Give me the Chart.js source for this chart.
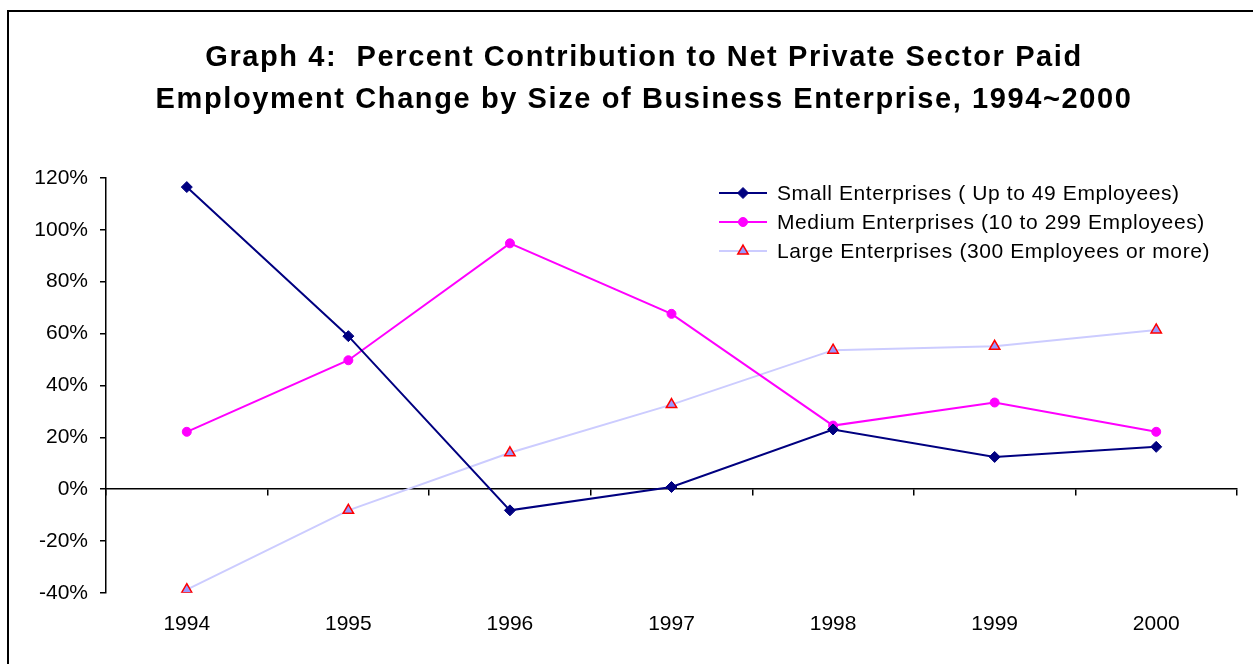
<!DOCTYPE html>
<html>
<head>
<meta charset="utf-8">
<script src="https://cdn.jsdelivr.net/npm/chart.js@4"></script>
<style>
    html, body { margin: 0; padding: 0; background: #fff; overflow: hidden; }
    #wrap { position: relative; width: 1253px; height: 664px; }
    #frame {
        position: absolute; left: 7px; top: 10px; width: 1260px; height: 670px;
        border: 2px solid #000; pointer-events: none;
    }
</style>
</head>
<body>
<div id="wrap">
    <canvas id="chart" width="1253" height="664"></canvas>
    <div id="frame"></div>
</div>
<script>
const years  = ["1994", "1995", "1996", "1997", "1998", "1999", "2000"];
const small  = [116.5, 59.0, -8.2, 0.8, 23.0, 12.4, 16.3];
const medium = [22.1, 49.7, 94.8, 67.6, 24.5, 33.4, 22.1];
const large  = [-38.8, -8.2, 14.0, 32.6, 53.6, 55.1, 61.4];
const seriesNames = [
    "Small Enterprises ( Up to 49 Employees)",
    "Medium Enterprises (10 to 299 Employees)",
    "Large Enterprises (300 Employees or more)",
];
const yTicks = { min: -40, max: 120, step: 20 };

const FONT = "'Liberation Sans', Arial, sans-serif";

// title: shift its box so it is centred like the original, and widen the letters a bit
const titleTweak = {
    id: "titleTweak",
    afterLayout(chart) {
        const t = chart.titleBlock;
        t.left = 51;
        if (!t._wrapped) {
            const orig = t.draw;
            t.draw = function (area) {
                const ctx = this.ctx;
                ctx.save();
                ctx.letterSpacing = "1.6px";
                orig.call(this, area);
                ctx.restore();
            };
            t._wrapped = true;
        }
    },
};

// legend drawn inside the plot area, top right
const innerLegend = {
    id: "innerLegend",
    afterDraw(chart) {
        const ctx = chart.ctx;
        const area = chart.chartArea;
        const x0 = area.left + 613;
        const y0 = area.top + 15;
        chart.data.datasets.forEach((ds, i) => {
            const y = y0 + i * 29;
            ctx.save();
            ctx.strokeStyle = ds.borderColor;
            ctx.lineWidth = ds.borderWidth;
            ctx.beginPath();
            ctx.moveTo(x0, y);
            ctx.lineTo(x0 + 48, y);
            ctx.stroke();
            ctx.fillStyle = ds.pointBackgroundColor;
            ctx.strokeStyle = ds.pointBorderColor;
            ctx.lineWidth = ds.pointBorderWidth;
            Chart.helpers.drawPoint(ctx, {
                pointStyle: ds.pointStyle,
                radius: ds.pointRadius,
                rotation: 0,
                borderWidth: ds.pointBorderWidth,
            }, x0 + 24, y);
            ctx.fillStyle = "#000";
            ctx.font = "21px " + FONT;
            ctx.letterSpacing = "0.6px";
            ctx.textBaseline = "middle";
            ctx.textAlign = "left";
            ctx.fillText(ds.label, x0 + 58, y + 1);
            ctx.restore();
        });
    },
};

new Chart(document.getElementById("chart"), {
    type: "line",
    data: {
        labels: years,
        datasets: [
            {
                label: seriesNames[0], data: small,
                borderColor: "#000080", borderWidth: 2,
                pointStyle: "rectRot", pointRadius: 5.5,
                pointBackgroundColor: "#000080", pointBorderColor: "#000080",
                pointBorderWidth: 1,
            },
            {
                label: seriesNames[1], data: medium,
                borderColor: "#ff00ff", borderWidth: 2,
                pointStyle: "circle", pointRadius: 4.5,
                pointBackgroundColor: "#ff00ff", pointBorderColor: "#ff00ff",
                pointBorderWidth: 1,
            },
            {
                label: seriesNames[2], data: large,
                borderColor: "#ccccff", borderWidth: 2,
                pointStyle: "triangle", pointRadius: 6,
                pointBackgroundColor: "#9999ff", pointBorderColor: "#ff0000",
                pointBorderWidth: 1.5,
            },
        ],
    },
    options: {
        responsive: false,
        animation: false,
        layout: { padding: { left: 0, right: 16, top: 0, bottom: 8 } },
        plugins: {
            legend: { display: false },
            tooltip: { enabled: false },
            title: {
                display: true,
                text: [
                    "Graph 4:  Percent Contribution to Net Private Sector Paid",
                    "Employment Change by Size of Business Enterprise, 1994~2000",
                ],
                color: "#000",
                font: { family: FONT, size: 29, weight: "bold", lineHeight: 42 / 29 },
                padding: { top: 37, bottom: 57 },
            },
        },
        scales: {
            x: {
                type: "category",
                offset: true,
                border: { display: false },
                grid: { display: false, drawTicks: false },
                ticks: { color: "#000", font: { family: FONT, size: 21 }, padding: 19 },
            },
            x0: {
                type: "category",
                axis: "x",
                position: { y: 0 },
                offset: true,
                border: { display: true, color: "#000", width: 1.5 },
                grid: {
                    offset: true, drawOnChartArea: false,
                    tickLength: 6, color: "#000", lineWidth: 1.5,
                },
                ticks: { display: false },
            },
            y: {
                min: yTicks.min,
                max: yTicks.max,
                border: { display: true, color: "#000", width: 1.5 },
                grid: { drawOnChartArea: false, tickLength: 6, color: "#000", lineWidth: 1.5 },
                ticks: {
                    stepSize: yTicks.step,
                    color: "#000",
                    padding: 12,
                    font: { family: FONT, size: 21 },
                    callback: v => v + "%",
                },
                afterFit(scale) { scale.width = 106; },
            },
        },
    },
    plugins: [titleTweak, innerLegend],
});
</script>
</body>
</html>
